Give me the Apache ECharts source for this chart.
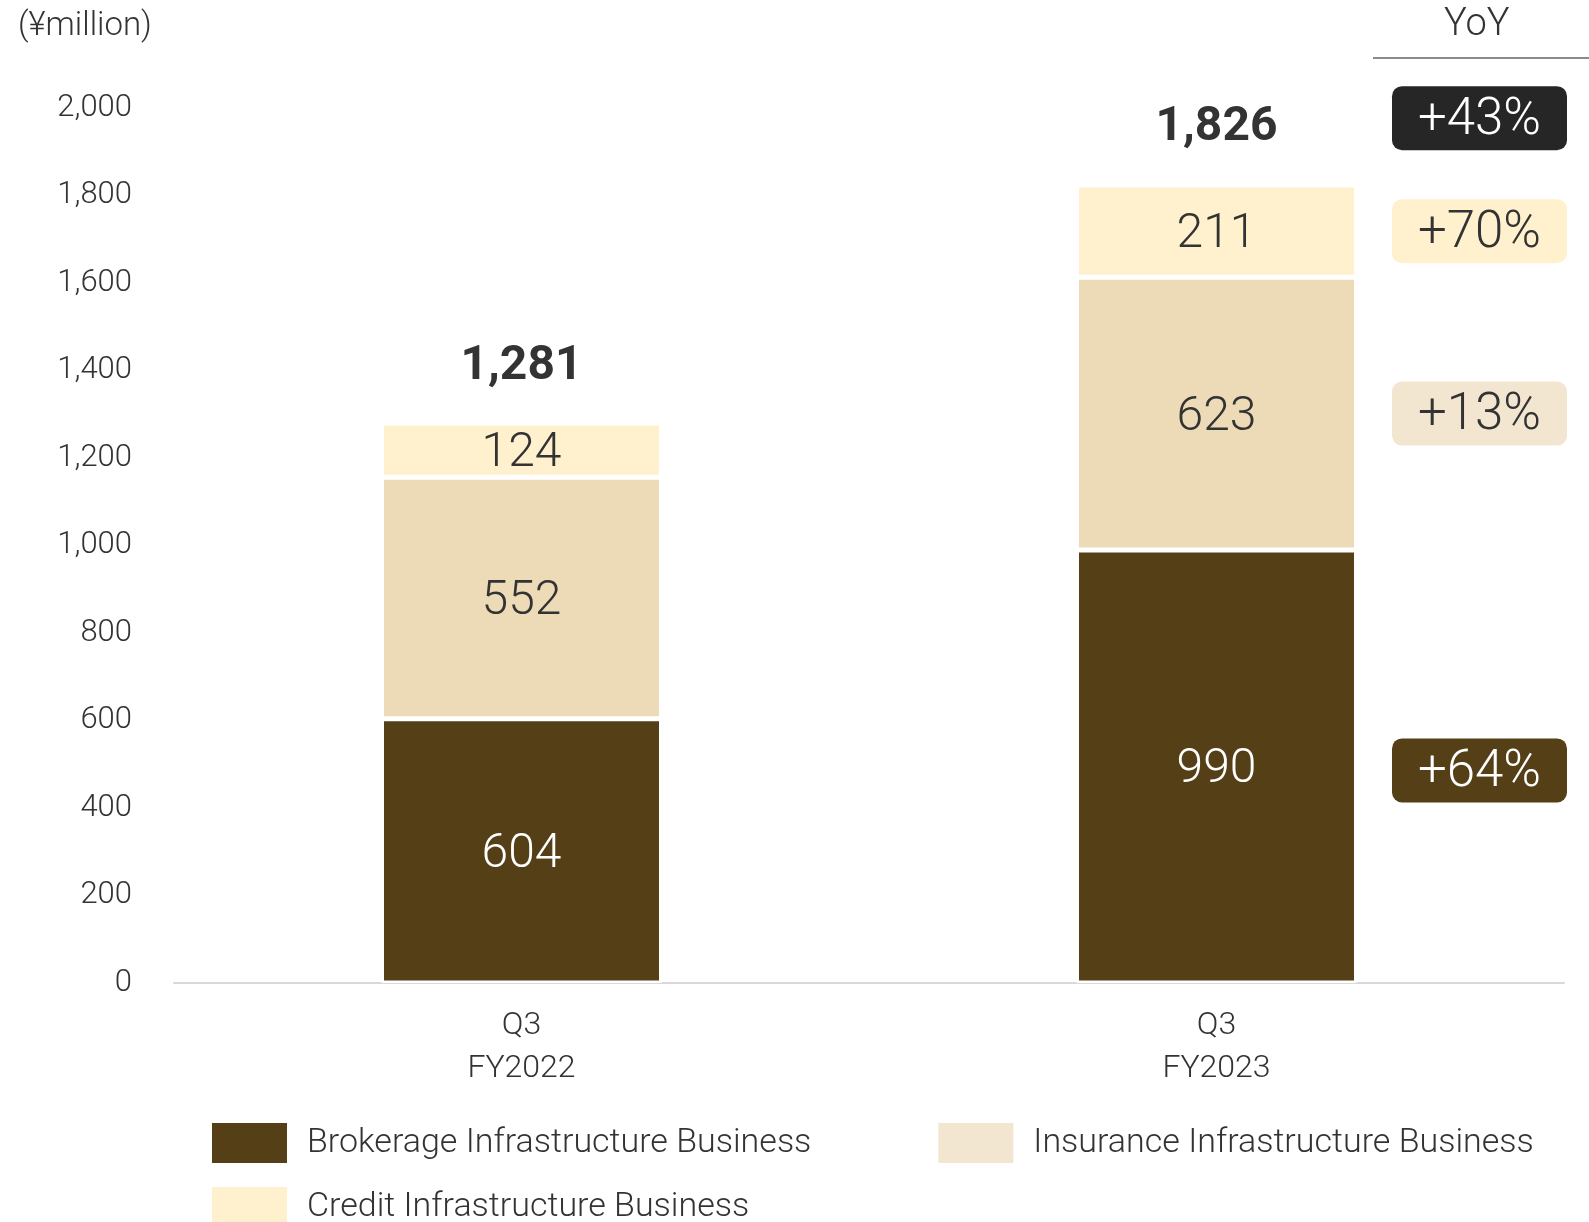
<!DOCTYPE html>
<html>
<head>
<meta charset="utf-8">
<script src="https://cdn.jsdelivr.net/npm/echarts@6/dist/echarts.min.js"></script>
<style>
  html, body { margin: 0; padding: 0; background: #fff; }
  #chart { width: 1589px; height: 1222px; }
</style>
</head>
<body>
<div id="chart"></div>
<script>
// Quarterly revenue by business line (¥ million)
const categories = ['Q3\nFY2022', 'Q3\nFY2023'];
const seriesNames = [
  'Brokerage Infrastructure Business',
  'Insurance Infrastructure Business',
  'Credit Infrastructure Business'
];
const brokerage = [604, 990];
const insurance = [552, 623];
const credit = [124, 211];
const totals = [1281, 1826];

// Year-on-year change for the latest quarter
const yoyBrokerage = '+64%';
const yoyInsurance = '+13%';
const yoyCredit = '+70%';
const yoyTotal = '+43%';

const yMin = 0, yMax = 2000, yStep = 200;

const FONT = 'Roboto, "Noto Sans", sans-serif';
const TEXT = '#333333';
const C_BROKER = '#543F17';
const C_INSUR = '#EDDBB8';
const C_INSUR_LIGHT = '#F2E6D0';
const C_CREDIT = '#FFF1CD';

const BAR_W = 280;      // layout width; the white border eats into it
const BORDER = 2.5;
const VIS_BAR_W = BAR_W - 2 * BORDER;

function segLabel(color) {
  return {
    show: true, position: 'inside', color: color, offset: [0, 4],
    fontSize: 48, fontFamily: FONT, fontWeight: 300
  };
}

// badges placed beside the latest bar, at the middle of each segment
const last = categories.length - 1;
const bTop = brokerage[last];
const iTop = bTop + insurance[last];
const cTop = iTop + credit[last];
const badgeData = [
  { value: [last, bTop / 2], text: yoyBrokerage, fill: C_BROKER, color: '#ffffff', dy: 4 },
  { value: [last, (bTop + iTop) / 2], text: yoyInsurance, fill: C_INSUR_LIGHT, color: TEXT, dy: 0 },
  { value: [last, (iTop + cTop) / 2], text: yoyCredit, fill: C_CREDIT, color: TEXT, dy: 0 },
  { value: [last, totals[last]], text: yoyTotal, fill: '#262626', color: '#ffffff', dy: -66 }
];

const legendText = {
  fontSize: 34, color: TEXT, fontFamily: FONT, fontWeight: 300, padding: [2, 0, 0, 15]
};

const chart = echarts.init(document.getElementById('chart'), null, { renderer: 'canvas' });

chart.setOption({
  animation: false,
  backgroundColor: '#ffffff',
  title: {
    text: '(¥million)',
    left: 13, top: 5,
    textStyle: { fontSize: 33, fontWeight: 300, color: TEXT, fontFamily: FONT }
  },
  graphic: [
    {
      type: 'text', left: 1444, top: 6,
      style: { text: 'YoY', fontSize: 38, fontWeight: 300, fill: TEXT, fontFamily: FONT }
    },
    {
      type: 'line',
      shape: { x1: 1373, y1: 58, x2: 1589, y2: 58 },
      style: { stroke: '#8a8a8a', lineWidth: 2 }
    }
  ],
  legend: [
    {
      data: [
        { name: seriesNames[0] },
        { name: seriesNames[1], itemStyle: { color: C_INSUR_LIGHT } }
      ],
      left: 212, top: 1123, padding: 0,
      orient: 'horizontal',
      icon: 'rect', itemWidth: 75, itemHeight: 40, itemGap: 127,
      itemStyle: { borderWidth: 0 },
      selectedMode: false,
      textStyle: legendText
    },
    {
      data: [seriesNames[2]],
      left: 212, top: 1187, padding: 0,
      icon: 'rect', itemWidth: 75, itemHeight: 40,
      itemStyle: { borderWidth: 0 },
      selectedMode: false,
      textStyle: legendText
    }
  ],
  grid: { left: 174, right: 25, top: 108, bottom: 239, containLabel: false },
  xAxis: {
    type: 'category',
    data: categories,
    axisLine: { show: true, lineStyle: { color: '#d9d9d9', width: 2 } },
    axisTick: { show: false },
    axisLabel: {
      margin: 21, fontSize: 32, lineHeight: 43, color: TEXT,
      fontFamily: FONT, fontWeight: 300
    }
  },
  yAxis: {
    type: 'value',
    min: yMin, max: yMax, interval: yStep,
    axisLine: { show: false },
    axisTick: { show: false },
    splitLine: { show: false },
    axisLabel: {
      margin: 42, fontSize: 31, color: TEXT, fontFamily: FONT, fontWeight: 300,
      formatter: v => v.toLocaleString('en-US')
    }
  },
  series: [
    {
      name: seriesNames[0], type: 'bar', stack: 'rev', data: brokerage,
      barWidth: BAR_W,
      itemStyle: { color: C_BROKER, borderColor: '#ffffff', borderWidth: BORDER },
      label: segLabel('#ffffff')
    },
    {
      name: seriesNames[1], type: 'bar', stack: 'rev', data: insurance,
      barWidth: BAR_W,
      itemStyle: { color: C_INSUR, borderColor: '#ffffff', borderWidth: BORDER },
      label: segLabel(TEXT)
    },
    {
      name: seriesNames[2], type: 'bar', stack: 'rev', data: credit,
      barWidth: BAR_W,
      itemStyle: { color: C_CREDIT, borderColor: '#ffffff', borderWidth: BORDER },
      label: segLabel(TEXT)
    },
    {
      // totals above each stack
      name: 'Total', type: 'custom',
      data: totals.map((v, i) => [i, v]),
      encode: { x: 0, y: 1 },
      z: 5,
      renderItem: function (params, api) {
        const c = api.coord([api.value(0), api.value(1)]);
        return {
          type: 'text',
          style: {
            text: api.value(1).toLocaleString('en-US'),
            x: c[0], y: c[1] - 56,
            align: 'center', verticalAlign: 'middle',
            fontSize: 48, fontWeight: 'bold', fontFamily: FONT, fill: TEXT
          }
        };
      }
    },
    {
      // YoY badges
      name: 'YoY', type: 'custom',
      data: badgeData.map(d => d.value),
      encode: { x: 0, y: 1 },
      z: 5,
      renderItem: function (params, api) {
        const d = badgeData[params.dataIndex];
        const c = api.coord([api.value(0), api.value(1)]);
        const x = c[0] + VIS_BAR_W / 2 + 38;
        const cy = c[1] + d.dy;
        const w = 175, h = 64;
        return {
          type: 'group',
          children: [
            {
              type: 'rect',
              shape: { x: x, y: cy - h / 2, width: w, height: h, r: 10 },
              style: { fill: d.fill }
            },
            {
              type: 'text',
              style: {
                text: d.text, x: x + w / 2, y: cy + 3,
                align: 'center', verticalAlign: 'middle',
                fontSize: 51, fontWeight: 300, fontFamily: FONT, fill: d.color
              }
            }
          ]
        };
      }
    }
  ]
});
</script>
</body>
</html>
